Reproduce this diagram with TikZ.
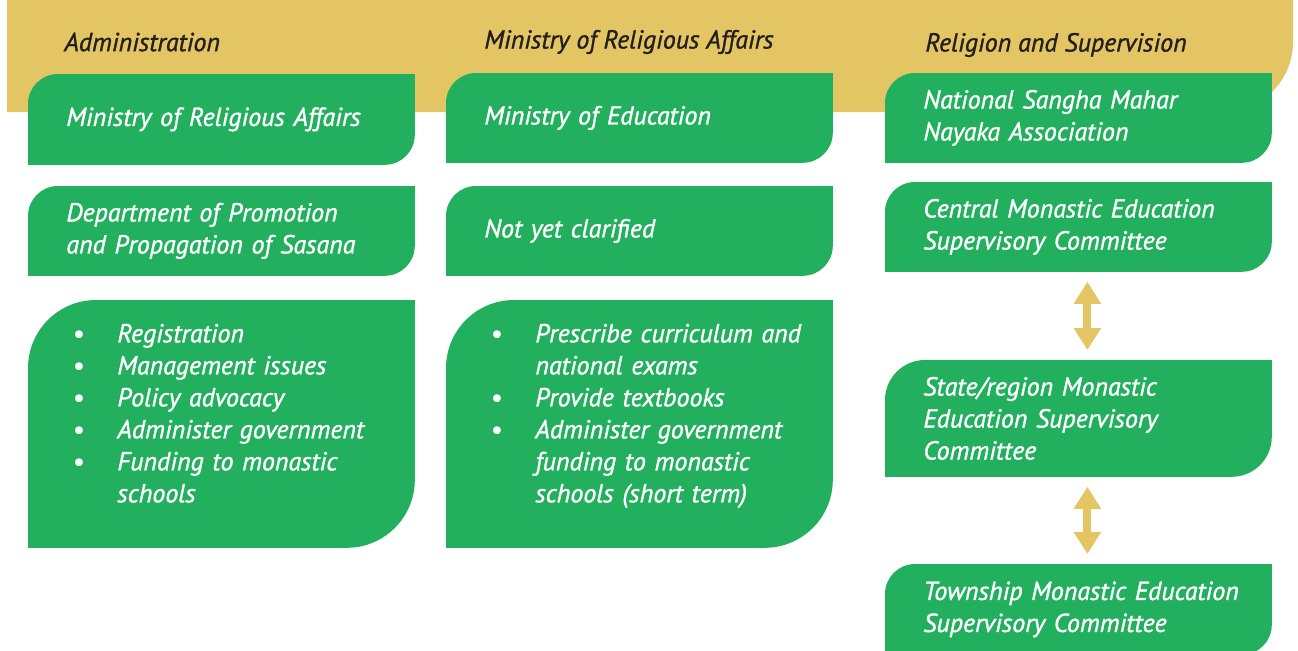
\documentclass[tikz,border=0pt]{standalone}
\usepackage{fontspec}
\setmainfont{PT Sans}[ItalicFeatures={FakeBold=1.2}]
\usetikzlibrary{arrows.meta,backgrounds}
\definecolor{band}{HTML}{E3C563}
\definecolor{leafgreen}{HTML}{23B05E}
\definecolor{headtext}{HTML}{231F20}

% green box, round corner top left and bottom right
\newcommand{\leafbox}[2]{%
  \fill[leafgreen] (#1.south west) -- ([yshift=-#2]#1.north west)
    arc[start angle=180,end angle=90,radius=#2] -- (#1.north east)
    -- ([yshift=#2]#1.south east)
    arc[start angle=0,end angle=-90,radius=#2] -- cycle;}

\begin{document}
\begin{tikzpicture}[x=0.5pt,y=0.5pt,
  font=\fontsize{13}{16}\selectfont\itshape,
  greenbox/.style={anchor=north west,text=white,align=left,
    inner xsep=19pt,inner ysep=0pt,minimum width=193pt,text width=155pt},
  head/.style={anchor=west,text=headtext,inner xsep=0pt},
  link/.style={band,line width=4pt,
    {Triangle[width=13pt,length=11pt]}-{Triangle[width=13pt,length=11pt]},
    shorten >=5pt,shorten <=5pt}]
  \useasboundingbox (0,0) rectangle (1298,-650);

  % Column heads
  \node[head] (hadmin) at (64,-42) {Administration};
  \node[head] (hmra) at (484,-42) {Ministry of Religious Affairs};
  \node[head] (hsuper) at (925,-45) {Religion and Supervision};

  % Administration
  \node[greenbox,minimum height=45pt] (mra) at (28,-74) {Ministry of Religious Affairs};
  \node[greenbox,minimum height=44.5pt] (dpps) at (28,-186)
    {Department of Promotion\\and Propagation of Sasana};
  \node[greenbox,minimum height=123.5pt] (adminlist) at (28,-300) {%
    \begin{tabular}{@{\hspace{3pt}}p{22.5pt}@{}l@{}}
      \textbullet & Registration\\
      \textbullet & Management issues\\
      \textbullet & Policy advocacy\\
      \textbullet & Administer government\\
      \textbullet & Funding to monastic\\
                  & schools\\[8pt]
    \end{tabular}};

  % Ministry of Religious Affairs
  \node[greenbox,minimum height=44.5pt] (moe) at (446,-73) {Ministry of Education};
  \node[greenbox,minimum height=44.5pt] (nyc) at (446,-186) {Not yet clarified};
  \node[greenbox,minimum height=123.5pt] (edulist) at (446,-300) {%
    \begin{tabular}{@{\hspace{3pt}}p{22.5pt}@{}l@{}}
      \textbullet & Prescribe curriculum and\\
                  & national exams\\
      \textbullet & Provide textbooks\\
      \textbullet & Administer government\\
                  & funding to monastic\\
                  & schools (short term)\\[8pt]
    \end{tabular}};

  % Religion and Supervision
  \node[greenbox,minimum height=44.5pt] (nsmna) at (885,-73)
    {National Sangha Mahar\\Nayaka Association};
  \node[greenbox,minimum height=44.5pt] (cmesc) at (885,-182)
    {Central Monastic Education\\Supervisory Committee};
  \node[greenbox,minimum height=58pt] (smesc) at (885,-360)
    {State/region Monastic\\Education Supervisory\\Committee};
  \node[greenbox,minimum height=45pt] (tmesc) at (885,-564)
    {\mbox{Township Monastic Education}\\Supervisory Committee};

  \draw[link] ([xshift=4.5pt]cmesc.south) -- ([xshift=4.5pt]smesc.north);
  \draw[link] ([xshift=4.5pt]smesc.south) -- ([xshift=4.5pt]tmesc.north);

  % band and boxes behind the text
  \begin{scope}[on background layer]
    \fill[band] (7,0) -- (7,-112) -- (1223,-112)
      arc[start angle=-90,end angle=0,radius=35pt] -- (1293,0) -- cycle;
    \foreach \n/\r in {mra/15pt,dpps/15pt,adminlist/34pt,moe/15pt,nyc/15pt,
        edulist/34pt,nsmna/15pt,cmesc/15pt,smesc/20pt,tmesc/15pt}
      \leafbox{\n}{\r};
  \end{scope}
\end{tikzpicture}
\end{document}
